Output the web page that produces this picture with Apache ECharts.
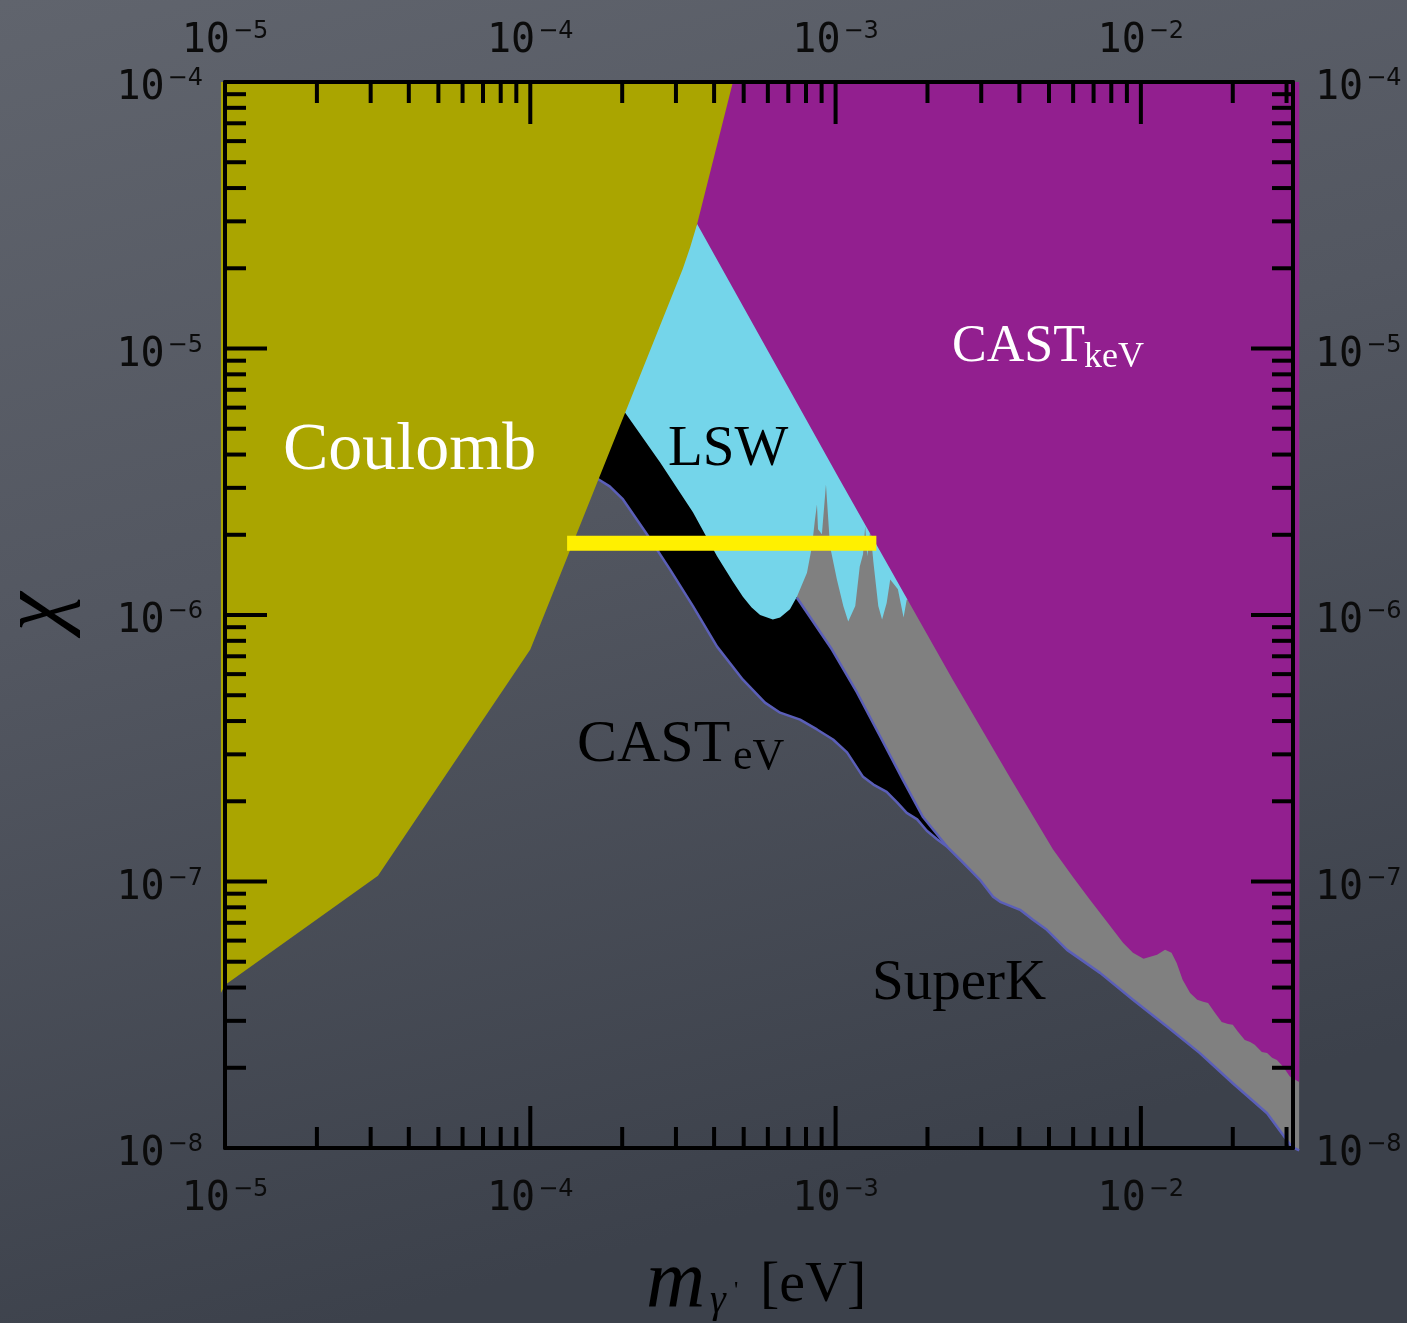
<!DOCTYPE html>
<html>
<head>
<meta charset="utf-8">
<script src="https://cdn.jsdelivr.net/npm/echarts@6/dist/echarts.min.js"></script>
<style>
  html, body { margin: 0; padding: 0; background: #4d525c; }
  #chart { width: 1407px; height: 1323px; }
</style>
</head>
<body>
<div id="chart"></div>
<script>
// Hidden-photon kinetic mixing chi versus hidden-photon mass (eV), log-log.

const massRange = [1e-5, 0.0315];
const chiRange = [1e-8, 1e-4];
const massDecades = [1e-5, 1e-4, 1e-3, 1e-2];
const chiDecades = [1e-8, 1e-7, 1e-6, 1e-5, 1e-4];

// Coulomb-law bound: right edge from top to bottom, then the far-left corner.
const coulombEdge = [
  [4.61e-4, 1e-4], [3.52e-4, 2.93e-5], [3.34e-4, 2.40e-5], [3.16e-4, 1.99e-5],
  [1.0e-4, 7.42e-7], [3.17e-5, 1.05e-7], [1.0e-5, 4.09e-8], [9.7e-6, 3.82e-8]
];
const coulombCorner = [[9.7e-6, 1e-4]];

// CAST (keV) bound: lower-left edge from top to bottom, then hidden corners.
const castKeVEdge = [
  [3.52e-4, 2.93e-5], [1.03e-3, 3.23e-6], [2.42e-3, 5.72e-7], [3.73e-3, 2.45e-7],
  [5.15e-3, 1.32e-7], [5.99e-3, 1.04e-7], [6.81e-3, 8.54e-8], [7.74e-3, 7.06e-8],
  [8.74e-3, 5.89e-8], [9.42e-3, 5.40e-8], [1.02e-2, 5.13e-8], [1.13e-2, 5.31e-8],
  [1.20e-2, 5.54e-8], [1.26e-2, 5.40e-8], [1.31e-2, 4.95e-8], [1.37e-2, 4.28e-8],
  [1.45e-2, 3.82e-8], [1.53e-2, 3.60e-8], [1.60e-2, 3.54e-8], [1.66e-2, 3.50e-8],
  [1.75e-2, 3.21e-8], [1.84e-2, 2.97e-8], [1.93e-2, 2.92e-8], [2.00e-2, 2.90e-8],
  [2.08e-2, 2.73e-8], [2.19e-2, 2.54e-8], [2.28e-2, 2.50e-8], [2.36e-2, 2.44e-8],
  [2.49e-2, 2.29e-8], [2.59e-2, 2.27e-8], [2.69e-2, 2.18e-8], [2.79e-2, 2.14e-8],
  [2.92e-2, 2.02e-8], [3.08e-2, 1.85e-8], [3.30e-2, 1.77e-8]
];
const castKeVCorners = [[3.30e-2, 1e-4], [3.34e-4, 1e-4], [3.09e-4, 2.93e-5]];

// Light-shining-through-wall bound: lower edge (left to right), then hidden corners.
const lswEdge = [
  [2.04e-4, 5.76e-6], [2.66e-4, 3.74e-6], [3.41e-4, 2.43e-6], [4.09e-4, 1.66e-6],
  [4.60e-4, 1.34e-6], [4.97e-4, 1.17e-6], [5.30e-4, 1.07e-6], [5.66e-4, 1.00e-6],
  [6.23e-4, 9.62e-7], [6.58e-4, 9.79e-7], [7.09e-4, 1.05e-6], [7.47e-4, 1.17e-6],
  [8.06e-4, 1.44e-6], [8.37e-4, 1.81e-6], [8.56e-4, 2.28e-6], [8.69e-4, 2.60e-6],
  [8.76e-4, 2.10e-6], [9.02e-4, 2.01e-6], [9.30e-4, 3.09e-6], [9.59e-4, 1.81e-6],
  [1.01e-3, 1.36e-6], [1.06e-3, 1.08e-6], [1.10e-3, 9.45e-7], [1.16e-3, 1.08e-6],
  [1.20e-3, 1.52e-6], [1.23e-3, 1.69e-6], [1.25e-3, 2.15e-6], [1.27e-3, 1.66e-6],
  [1.30e-3, 2.10e-6], [1.33e-3, 1.58e-6], [1.38e-3, 1.08e-6], [1.42e-3, 9.62e-7],
  [1.47e-3, 1.11e-6], [1.51e-3, 1.36e-6], [1.60e-3, 1.25e-6], [1.67e-3, 9.79e-7],
  [1.71e-3, 1.14e-6]
];
const lswCorners = [[3.46e-3, 1.14e-6], [3.46e-3, 2.93e-5], [3.52e-4, 2.93e-5], [1.57e-4, 5.76e-6]];

// CAST (eV) bound: hidden cap, right edge, lower edge (both ending at the tip).
const castEVCap = [[2.04e-4, 5.76e-6], [4.18e-4, 2.72e-6]];
const castEVRight = [
  [7.47e-4, 1.16e-6], [9.73e-4, 7.42e-7], [1.175e-3, 5.12e-7], [1.40e-3, 3.50e-7],
  [1.66e-3, 2.41e-7], [1.93e-3, 1.75e-7], [2.32e-3, 1.35e-7]
];
const castEVLower = [
  [1.57e-4, 3.52e-6], [1.67e-4, 3.23e-6], [1.82e-4, 3.04e-6], [2.01e-4, 2.72e-6],
  [2.41e-4, 2.01e-6], [2.87e-4, 1.48e-6], [3.41e-4, 1.08e-6], [4.09e-4, 7.61e-7],
  [4.97e-4, 5.72e-7], [5.87e-4, 4.69e-7], [6.58e-4, 4.30e-7], [7.65e-4, 4.05e-7],
  [8.69e-4, 3.72e-7], [9.81e-4, 3.41e-7], [1.09e-3, 3.05e-7], [1.23e-3, 2.47e-7],
  [1.33e-3, 2.31e-7], [1.47e-3, 2.17e-7], [1.59e-3, 1.98e-7], [1.71e-3, 1.81e-7],
  [1.85e-3, 1.71e-7], [1.99e-3, 1.55e-7], [2.15e-3, 1.44e-7], [2.32e-3, 1.35e-7]
];

// Super-Kamiokande bound: lower edge from the CAST(eV) tip to the right end.
const superKLower = [
  [2.32e-3, 1.35e-7], [2.61e-3, 1.18e-7], [2.97e-3, 1.015e-7], [3.28e-3, 8.76e-8],
  [3.46e-3, 8.39e-8], [4.02e-3, 7.83e-8], [4.43e-3, 7.18e-8], [4.92e-3, 6.59e-8],
  [5.73e-3, 5.54e-8], [7.35e-3, 4.54e-8], [9.42e-3, 3.60e-8], [1.22e-2, 2.85e-8],
  [1.56e-2, 2.27e-8], [2.00e-2, 1.75e-8], [2.59e-2, 1.35e-8], [3.12e-2, 1.01e-8],
  [3.30e-2, 9.8e-9]
];
const superKTop = [[5.66e-4, 1.62e-6], [7.65e-4, 4.56e-6], [3.30e-2, 4.56e-6]];

// Projected LSW sensitivity.
const lswProposal = [[1.32e-4, 1.86e-6], [1.36e-3, 1.86e-6]];

const COLORS = {
  coulomb: '#aaa500', castKeV: '#921f8f', lsw: '#74d5ea', castEV: '#000000',
  superK: '#808080', outline: '#5b5fb8', proposal: '#fff000', axis: '#000000'
};

const rev = a => a.slice().reverse();
const isDecade = (list, v) => list.some(d => Math.abs(Math.log10(d) - Math.log10(v)) < 1e-6);

function areaSeries(name, points, color) {
  return {
    name, type: 'custom', coordinateSystem: 'cartesian2d', clip: false, silent: true,
    data: points, encode: { x: 0, y: 1 },
    renderItem(params, api) {
      if (params.dataIndex !== 0) return null;
      return { type: 'polygon', shape: { points: points.map(p => api.coord(p)) }, style: { fill: color } };
    }
  };
}

function lineSeries(name, points, color, width) {
  return {
    name, type: 'custom', coordinateSystem: 'cartesian2d', clip: false, silent: true,
    data: points, encode: { x: 0, y: 1 },
    renderItem(params, api) {
      if (params.dataIndex !== 0) return null;
      return {
        type: 'polyline', shape: { points: points.map(p => api.coord(p)) },
        style: { stroke: color, lineWidth: width, fill: null, lineJoin: 'round' }
      };
    }
  };
}

// Tick positions: decades plus 2..9 within each decade.
function tickValues(decades, range) {
  const out = [];
  decades.forEach(d => {
    for (let k = 1; k <= 9; k++) {
      const v = d * k;
      if (v >= range[0] * 0.999 && v <= range[1] * 1.001) out.push(v);
    }
  });
  return out;
}
const massTicks = tickValues(massDecades, massRange);
const chiTicks = tickValues(chiDecades, chiRange);

const MAJOR = 42, MINOR = 21, TICK_W = 4;

const massTickSeries = {
  type: 'custom', coordinateSystem: 'cartesian2d', silent: true, z: 30,
  data: massTicks.map(v => [v, chiRange[0]]), encode: { x: 0, y: 1 },
  renderItem(params, api) {
    const v = api.value(0);
    const len = isDecade(massDecades, v) ? MAJOR : MINOR;
    const b = api.coord([v, chiRange[0]]);
    const t = api.coord([v, chiRange[1]]);
    const st = { stroke: COLORS.axis, lineWidth: TICK_W };
    return { type: 'group', children: [
      { type: 'line', shape: { x1: b[0], y1: b[1], x2: b[0], y2: b[1] - len }, style: st },
      { type: 'line', shape: { x1: t[0], y1: t[1], x2: t[0], y2: t[1] + len }, style: st }
    ] };
  }
};

const chiTickSeries = {
  type: 'custom', coordinateSystem: 'cartesian2d', silent: true, z: 30,
  data: chiTicks.map(v => [massRange[0], v]), encode: { x: 0, y: 1 },
  renderItem(params, api) {
    const v = api.value(1);
    const len = isDecade(chiDecades, v) ? MAJOR : MINOR;
    const l = api.coord([massRange[0], v]);
    const r = api.coord([massRange[1], v]);
    const st = { stroke: COLORS.axis, lineWidth: TICK_W };
    return { type: 'group', children: [
      { type: 'line', shape: { x1: l[0], y1: l[1], x2: l[0] + len, y2: l[1] }, style: st },
      { type: 'line', shape: { x1: r[0], y1: r[1], x2: r[0] - len, y2: r[1] }, style: st }
    ] };
  }
};

const labelRich = {
  b: { fontFamily: 'DejaVu Sans Mono', fontSize: 40, color: '#0b0b0b', lineHeight: 44 },
  s: { fontFamily: 'DejaVu Sans', fontSize: 24, color: '#0b0b0b', lineHeight: 24, verticalAlign: 'top', padding: [0, 0, 0, 3] }
};
function powerLabel(list) {
  return v => {
    if (!isDecade(list, v)) return '';
    const e = Math.round(Math.log10(v));
    return '{b|10}{s|' + (e < 0 ? '\u2212' + (-e) : String(e)) + '}';
  };
}

function massAxis(position, margin) {
  return {
    type: 'log', logBase: 10, position, min: massRange[0], max: massRange[1], z: 20,
    axisLine: { show: true, onZero: false, lineStyle: { color: COLORS.axis, width: 4 } },
    axisTick: { show: false }, minorTick: { show: false }, splitLine: { show: false },
    axisLabel: { show: true, margin, formatter: powerLabel(massDecades), rich: labelRich, showMinLabel: true, showMaxLabel: true, hideOverlap: false }
  };
}
function chiAxis(position, margin) {
  return {
    type: 'log', logBase: 10, position, min: chiRange[0], max: chiRange[1], z: 20,
    axisLine: { show: true, onZero: false, lineStyle: { color: COLORS.axis, width: 4 } },
    axisTick: { show: false }, minorTick: { show: false }, splitLine: { show: false },
    axisLabel: { show: true, margin, padding: [14, 0, 0, 0], formatter: powerLabel(chiDecades), rich: labelRich, showMinLabel: true, showMaxLabel: true, hideOverlap: false }
  };
}

function txt(text, x, y, size, color, extra) {
  return Object.assign({
    type: 'text', x, y, z: 40, silent: true,
    style: {
      text, fill: color, font: size + 'px "Liberation Serif", "Times New Roman", serif',
      align: 'left', textAlign: 'left', verticalAlign: 'middle', textVerticalAlign: 'middle'
    }
  }, extra || {});
}
function itxt(text, x, y, size, color, extra) {
  const el = txt(text, x, y, size, color, extra);
  el.style.font = 'italic ' + el.style.font;
  return el;
}

const chi = itxt('\u03c7', 38, 612, 88, '#000000', { rotation: Math.PI / 2 });
chi.style.align = chi.style.textAlign = 'center';

const chart = echarts.init(document.getElementById('chart'), null, { renderer: 'canvas' });
chart.setOption({
  animation: false,
  backgroundColor: {
    type: 'linear', x: 0, y: 0, x2: 0.25, y2: 1,
    colorStops: [
      { offset: 0, color: '#60646d' },
      { offset: 0.45, color: '#535761' },
      { offset: 1, color: '#3c414b' }
    ]
  },
  grid: { left: 225, right: 114, top: 82, bottom: 175, containLabel: false },
  xAxis: [massAxis('bottom', 30), massAxis('top', 18)],
  yAxis: [chiAxis('left', 22), chiAxis('right', 22)],
  series: [
    areaSeries('SuperK', [...superKTop, ...rev(superKLower), ...rev(castEVRight)], COLORS.superK),
    areaSeries('CAST eV', [...castEVCap, ...castEVRight, ...rev(castEVLower)], COLORS.castEV),
    lineSeries('lower outline', [...castEVLower, ...superKLower.slice(1)], COLORS.outline, 2.5),
    lineSeries('CAST eV edge', castEVRight, COLORS.outline, 2.5),
    areaSeries('LSW', [...lswEdge, ...lswCorners], COLORS.lsw),
    areaSeries('CAST keV', [...castKeVEdge, ...castKeVCorners], COLORS.castKeV),
    areaSeries('Coulomb', [...coulombEdge, ...coulombCorner], COLORS.coulomb),
    lineSeries('LSW proposal', lswProposal, COLORS.proposal, 15),
    massTickSeries,
    chiTickSeries
  ],
  graphic: [
    txt('Coulomb', 283, 451, 68, '#ffffff'),
    txt('LSW', 668, 450, 57, '#000000'),
    txt('CAST', 952, 347, 52, '#ffffff'),
    txt('keV', 1084, 358, 36, '#ffffff'),
    txt('CAST', 577, 745, 60, '#000000'),
    txt('eV', 733, 757, 44, '#000000'),
    txt('SuperK', 872, 984, 57, '#000000'),
    itxt('m', 646, 1284, 82, '#000000'),
    itxt('\u03b3', 710, 1301, 40, '#000000'),
    txt("'", 734, 1291, 24, '#000000'),
    txt('[eV]', 760, 1286, 58, '#000000'),
    chi
  ]
});
</script>
</body>
</html>
